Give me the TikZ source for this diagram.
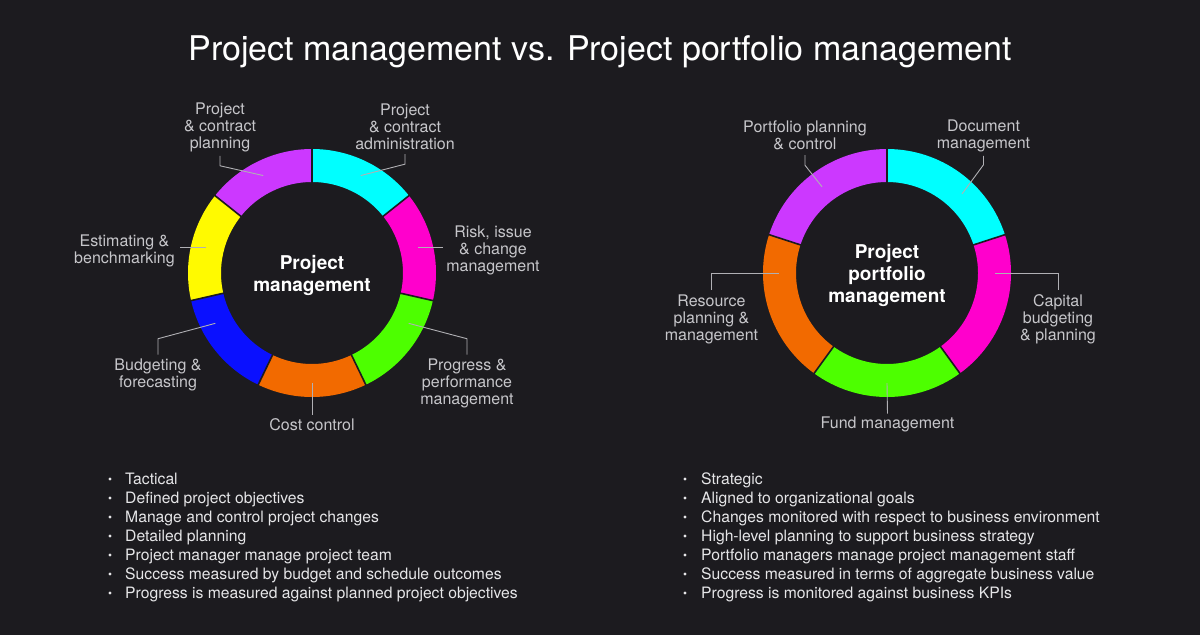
\documentclass[tikz,border=0pt]{standalone}
\usepackage{fontspec}
\setmainfont{TeX Gyre Heros}

\definecolor{bgdark}{HTML}{1C1B1F}
\definecolor{labelgray}{HTML}{C6C6CA}
\definecolor{leadergray}{HTML}{B0B0B4}
\definecolor{itemwhite}{HTML}{E6E6E8}
\definecolor{segcyan}{HTML}{00FFFF}
\definecolor{segmagenta}{HTML}{FF00CC}
\definecolor{seggreen}{HTML}{4DFF00}
\definecolor{segorange}{HTML}{F26A00}
\definecolor{segblue}{HTML}{0A10FF}
\definecolor{segyellow}{HTML}{FFFA00}
\definecolor{segpurple}{HTML}{CC38FF}

\tikzset{
  seglabel/.style={text=labelgray, font=\fontsize{16}{17}\selectfont, align=center, inner sep=0pt},
  hub/.style={text=white, font=\bfseries\fontsize{19}{22}\selectfont, align=center, inner sep=0pt},
  listitem/.style={text=itemwhite, font=\fontsize{15.7}{19}\selectfont, anchor=base west, inner sep=0pt},
  leader/.style={draw=leadergray, line width=0.9pt},
  ringseg/.style={line width=33pt},
  divider/.style={draw=bgdark, line width=1.6pt},
}

\begin{document}
\begin{tikzpicture}[x=1pt,y=1pt]
  % background
  \fill[bgdark] (0,0) rectangle (1200,-635);
  \useasboundingbox (0,0) rectangle (1200,-635);

  \node[text=white, font=\fontsize{34}{40}\selectfont, anchor=base, inner sep=0pt] (title) at (600,-60)
    {Project management vs. Project portfolio management};

  % left ring: project management
  \begin{scope}[shift={(312,-273)}]
    \draw[ringseg, segcyan] (90:107.5) arc[start angle=90, end angle=38.57, radius=107.5];
    \draw[ringseg, segmagenta] (38.57:107.5) arc[start angle=38.57, end angle=-12.86, radius=107.5];
    \draw[ringseg, seggreen] (-12.86:107.5) arc[start angle=-12.86, end angle=-64.29, radius=107.5];
    \draw[ringseg, segorange] (-64.29:107.5) arc[start angle=-64.29, end angle=-115.71, radius=107.5];
    \draw[ringseg, segblue] (-115.71:107.5) arc[start angle=-115.71, end angle=-167.14, radius=107.5];
    \draw[ringseg, segyellow] (192.86:107.5) arc[start angle=192.86, end angle=141.43, radius=107.5];
    \draw[ringseg, segpurple] (141.43:107.5) arc[start angle=141.43, end angle=90, radius=107.5];
    \foreach \a in {90,38.57,-12.86,-64.29,-115.71,-167.14,141.43}
      \draw[divider] (\a:90) -- (\a:125);

    \node[hub] (pm) at (0,-2) {Project\\management};

    \coordinate (pcpR) at (116.6:109);
    \coordinate (pcaR) at (63.4:109);
    \coordinate (rimR) at (13.8:109);
    \coordinate (progR) at (-27.5:109);
    \coordinate (costR) at (-90:110);
    \coordinate (budR) at (207.5:109);
    \coordinate (estR) at (166.2:109);
  \end{scope}

  % right ring: project portfolio management
  \begin{scope}[shift={(887,-273)}]
    \draw[ringseg, segcyan] (90:107.5) arc[start angle=90, end angle=18, radius=107.5];
    \draw[ringseg, segmagenta] (18:107.5) arc[start angle=18, end angle=-54, radius=107.5];
    \draw[ringseg, seggreen] (-54:107.5) arc[start angle=-54, end angle=-126, radius=107.5];
    \draw[ringseg, segorange] (-126:107.5) arc[start angle=-126, end angle=-198, radius=107.5];
    \draw[ringseg, segpurple] (162:107.5) arc[start angle=162, end angle=90, radius=107.5];
    \foreach \a in {90,18,-54,-126,162}
      \draw[divider] (\a:90) -- (\a:125);

    \node[hub] (ppm) at (0,-2) {Project\\portfolio\\management};

    \coordinate (ppcR) at (127:108);
    \coordinate (docR) at (46.5:109);
    \coordinate (capR) at (0:108);
    \coordinate (fundR) at (-90:110);
    \coordinate (resR) at (180:108);
  \end{scope}

  % labels, left
  \node[seglabel] (pcp) at (220,-127) {Project\\\& contract\\planning};
  \node[seglabel] (pca) at (405,-127) {Project\\\& contract\\administration};
  \node[seglabel] (rim) at (493,-250) {Risk, issue\\\& change\\management};
  \node[seglabel] (est) at (124.5,-250.5) {Estimating \&\\benchmarking};
  \node[seglabel] (bud) at (158,-375) {Budgeting \&\\forecasting};
  \node[seglabel] (cost) at (312,-424.5) {Cost control};
  \node[seglabel] (prog) at (467,-383.5) {Progress \&\\performance\\management};

  % labels, right
  \node[seglabel] (ppc) at (805,-135.5) {Portfolio planning\\\& control};
  \node[seglabel] (doc) at (983.5,-135.5) {Document\\management};
  \node[seglabel] (res) at (711.5,-319) {Resource\\planning \&\\management};
  \node[seglabel] (cap) at (1058,-319) {Capital\\budgeting\\\& planning};
  \node[seglabel] (fund) at (887.5,-424.5) {Fund management};

  % leaders, left
  \draw[leader] ([yshift=-4]pcp.south) -- ++(0,-10) -- (pcpR);
  \draw[leader] ([yshift=-4]pca.south) -- ++(0,-10) -- (pcaR);
  \draw[leader] (rimR) -- ([xshift=-3]rimR -| rim.west);
  \draw[leader] (estR) -- ([xshift=5]estR -| est.east);
  \draw[leader] ([yshift=4]bud.north) -- ++(0,16) -- (budR);
  \draw[leader] (costR) -- ([yshift=3]cost.north);
  \draw[leader] ([yshift=4]prog.north) -- ++(0,16) -- (progR);

  % leaders, right
  \draw[leader] ([yshift=-5]ppc.south) -- ++(0,-10) -- (ppcR);
  \draw[leader] ([yshift=-4]doc.south) -- ++(0,-9) -- (docR);
  \draw[leader] (resR) -| ([yshift=4]res.north);
  \draw[leader] (capR) -| ([yshift=4]cap.north);
  \draw[leader] (fundR) -- ([yshift=3]fund.north);

  % bullet list, left
  \node[listitem] (pmA) at (125,-484.5) {Tactical};
  \node[listitem] (pmB) at (125,-503.5) {Defined project objectives};
  \node[listitem] (pmC) at (125,-522.5) {Manage and control project changes};
  \node[listitem] (pmD) at (125,-541.5) {Detailed planning};
  \node[listitem] (pmE) at (125,-560.5) {Project manager manage project team};
  \node[listitem] (pmF) at (125,-579.5) {Success measured by budget and schedule outcomes};
  \node[listitem] (pmG) at (125,-598.5) {Progress is measured against planned project objectives};

  % bullet list, right
  \node[listitem] (ppmA) at (701,-484.5) {Strategic};
  \node[listitem] (ppmB) at (701,-503.5) {Aligned to organizational goals};
  \node[listitem] (ppmC) at (701,-522.5) {Changes monitored with respect to business environment};
  \node[listitem] (ppmD) at (701,-541.5) {High-level planning to support business strategy};
  \node[listitem] (ppmE) at (701,-560.5) {Portfolio managers manage project management staff};
  \node[listitem] (ppmF) at (701,-579.5) {Success measured in terms of aggregate business value};
  \node[listitem] (ppmG) at (701,-598.5) {Progress is monitored against business KPIs};

  % bullets
  \foreach \k in {0,...,6} {
    \fill[itemwhite] (110,-479-19*\k) circle (1.6);
    \fill[itemwhite] (685,-479-19*\k) circle (1.6);
  }
\end{tikzpicture}
\end{document}
